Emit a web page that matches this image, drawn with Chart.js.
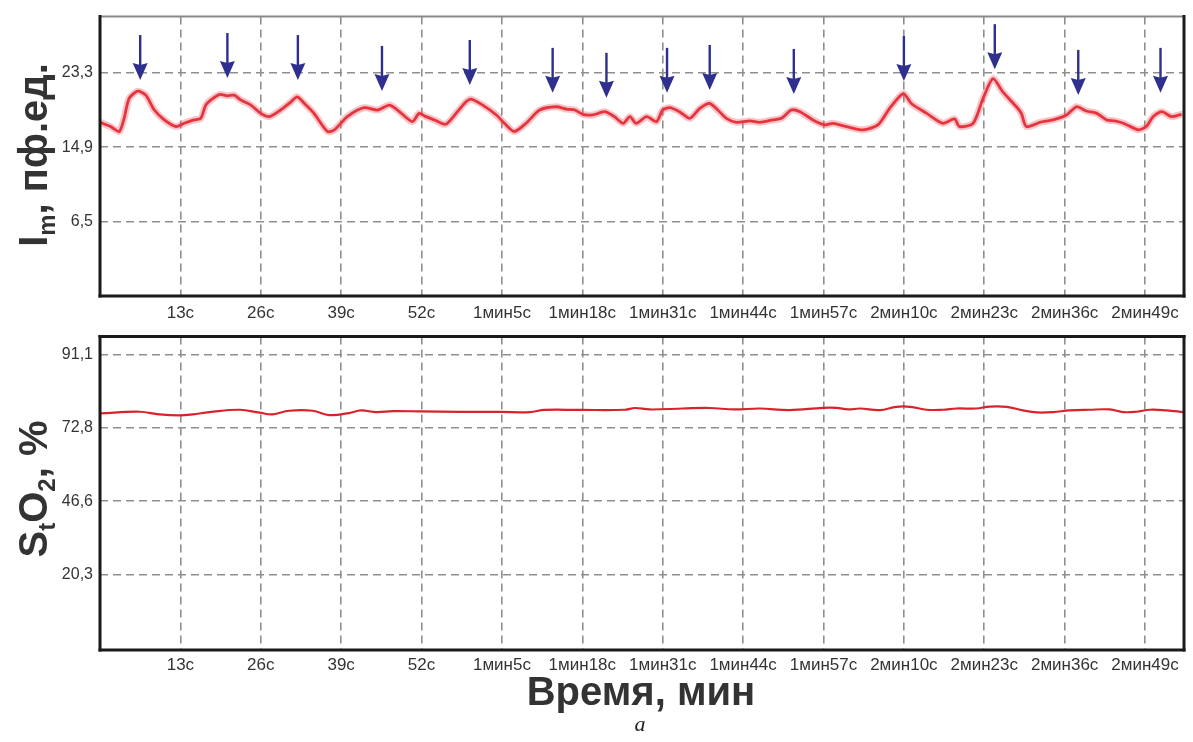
<!DOCTYPE html>
<html>
<head>
<meta charset="utf-8">
<script src="https://cdn.jsdelivr.net/npm/chart.js@4.4.1/dist/chart.umd.min.js"></script>
<style>
  html, body { margin: 0; padding: 0; background: #fff; }
  #wrap { position: relative; width: 1193px; height: 742px; overflow: hidden;
          font-family: "Liberation Sans", Arial, sans-serif; }
  #wrap canvas { position: absolute; left: 0; }
  #imChart { top: 0; }
  #so2Chart { top: 320px; }
  #xtitle { position: absolute; left: 0; width: 1282px; text-align: center; top: 671px;
            font-weight: bold; font-size: 40px; line-height: 40px; color: #333; }
  #fig { position: absolute; left: 0; width: 1280px; text-align: center; top: 713px;
         font-family: "Liberation Serif", "Times New Roman", serif; font-style: italic;
         font-size: 22px; line-height: 22px; color: #222; }
</style>
</head>
<body>
<div id="wrap">
  <canvas id="imChart" width="1193" height="330"></canvas>
  <canvas id="so2Chart" width="1193" height="370"></canvas>
  <div id="xtitle">Время, мин</div>
  <div id="fig">а</div>
</div>
<script>
// ---- time axis (seconds) ----
const tickSeconds = [13, 26, 39, 52, 65, 78, 91, 104, 117, 130, 143, 156, 169];
const tickLabels = ['13с', '26с', '39с', '52с', '1мин5с', '1мин18с', '1мин31с', '1мин44с',
                    '1мин57с', '2мин10с', '2мин23с', '2мин36с', '2мин49с'];
const timeMax = 175.3;

// ---- perfusion, I_m (пф.ед.) ----
const imTickValues = [6.5, 14.9, 23.3];
const imTickLabels = ['6,5', '14,9', '23,3'];
const imTimes = [0, 1.7, 3.1, 3.9, 4.7, 6.1, 7.4, 8.8, 10.4, 12.3, 13.6, 15.2, 16.3, 17.1, 17.9,
  19.3, 20.6, 21.7, 22.8, 24.4, 26.0, 27.4, 29.2, 30.9, 31.9, 33.3, 34.6, 36.8, 37.9, 40.0,
  42.7, 44.9, 46.8, 48.1, 50.5, 51.6, 52.7, 54.1, 55.9, 57.8, 59.2, 60.0, 61.9, 64.1, 65.4,
  67.0, 68.9, 71.1, 73.8, 75.4, 76.8, 78.1, 79.7, 81.6, 83.2, 84.6, 85.7, 86.7, 88.4, 90.0,
  91.0, 92.1, 93.7, 95.4, 97.0, 98.6, 99.9, 101.3, 102.9, 105.1, 106.7, 108.8, 110.2, 111.8,
  113.2, 115.3, 117.2, 118.5, 120.7, 123.4, 125.8, 127.7, 129.9, 131.2, 133.7, 136.3, 138.2,
  139.0, 141.2, 142.8, 144.4, 146.0, 148.2, 149.0, 149.8, 152.0, 154.1, 156.3, 157.9, 159.5,
  161.2, 162.8, 164.1, 165.5, 167.9, 169.2, 170.3, 171.7, 173.3, 174.9];
const imValues = [17.70, 17.22, 16.66, 18.15, 20.39, 21.22, 20.77, 19.09, 17.97, 17.22, 17.59,
  17.97, 18.15, 19.65, 20.21, 20.84, 20.69, 20.77, 20.21, 19.65, 18.71, 18.34, 19.09, 20.02,
  20.58, 19.65, 18.71, 16.66, 16.85, 18.34, 19.35, 19.09, 19.65, 19.09, 17.78, 18.71, 18.34,
  17.97, 17.48, 18.90, 20.02, 20.32, 19.65, 18.53, 17.59, 16.66, 17.59, 19.09, 19.46, 19.20,
  19.09, 18.60, 18.53, 18.90, 18.34, 17.59, 18.34, 17.59, 18.34, 17.78, 19.09, 19.35, 18.90,
  18.15, 19.27, 19.83, 19.09, 18.15, 17.70, 17.86, 17.70, 17.97, 18.15, 19.09, 18.90, 17.97,
  17.41, 17.59, 17.22, 16.85, 17.41, 19.27, 20.95, 19.83, 18.71, 17.59, 18.08, 17.22, 17.59,
  20.39, 22.63, 21.14, 19.46, 18.71, 17.22, 17.70, 17.97, 18.53, 19.46, 18.98, 18.71, 17.97,
  17.86, 17.59, 16.85, 17.22, 18.34, 18.90, 18.34, 18.60];

// marked perfusion peaks: time (s) and value at the arrow tip
const arrowTimes = [6.5, 20.6, 32.0, 45.6, 59.8, 73.2, 81.9, 91.7, 98.6, 112.2, 130.0, 144.7, 158.2, 171.5];
const arrowTipValues = [22.48, 22.71, 22.48, 21.25, 21.92, 21.03, 20.47, 21.03, 21.36, 20.91, 22.37, 23.71, 20.80, 21.03];

// ---- tissue oxygen saturation, StO2 (%) ----
const so2TickValues = [20.3, 46.55, 72.8, 99.05];
const so2TickLabels = ['20,3', '46,6', '72,8', '91,1'];
const so2Times = [0, 6.4, 9.6, 12.9, 15.0, 17.7, 22.6, 25.8, 27.9, 30.6, 34.4, 37.1, 40.3, 42.2,
  44.7, 47.4, 51.7, 58.1, 64.6, 69.5, 71.9, 77.6, 84.9, 86.5, 88.9, 94.3, 98.6, 102.6, 106.7,
  111.5, 116.9, 119.1, 121.0, 122.9, 126.1, 128.8, 131.0, 133.7, 136.3, 138.5, 141.7, 143.9,
  146.6, 149.3, 151.5, 154.1, 156.8, 160.0, 163.3, 165.5, 167.6, 169.8, 172.5, 175.2];
const so2Values = [77.96, 78.55, 77.61, 77.26, 77.61, 78.41, 79.26, 78.20, 77.61, 78.90, 78.90,
  77.36, 78.06, 79.01, 78.41, 78.77, 78.66, 78.48, 78.48, 78.41, 79.19, 79.19, 79.26, 79.89,
  79.36, 79.71, 79.89, 79.36, 79.71, 79.12, 79.96, 79.96, 79.36, 79.71, 79.12, 80.31, 80.31,
  79.26, 79.26, 79.71, 79.71, 80.41, 80.31, 79.01, 78.31, 78.41, 79.01, 79.26, 79.36, 78.41,
  78.55, 79.26, 79.01, 78.41];

const pairs = (xs, ys) => xs.map((x, i) => ({ x, y: ys[i] }));

const GRID = '#8f8f8f';
const LABEL = '#333333';

function timeScale(labelPad) {
  return {
    type: 'linear', min: 0, max: timeMax,
    afterBuildTicks: s => { s.ticks = tickSeconds.map(v => ({ value: v })); },
    afterFit: s => { s.height = labelPad.h; },
    ticks: {
      autoSkip: false, maxRotation: 0, padding: labelPad.p, color: LABEL,
      font: { family: 'Liberation Sans', size: 17 },
      callback: (v, i) => tickLabels[i]
    },
    grid: { color: GRID, lineWidth: 1.6, drawTicks: false },
    border: { display: false, dash: [8, 5] }
  };
}

function valueScale(min, max, values, labels) {
  return {
    type: 'linear', min, max,
    afterBuildTicks: s => { s.ticks = values.map(v => ({ value: v })); },
    afterFit: s => { s.width = 100; },
    ticks: {
      padding: 7, color: LABEL,
      font: { family: 'Liberation Sans', size: 16 },
      callback: (v, i) => labels[i]
    },
    grid: { color: GRID, lineWidth: 1.6, drawTicks: false },
    border: { display: false, dash: [8, 5] }
  };
}

// frame around the plot area, side by side
const framePlugin = {
  id: 'frame',
  afterDraw(chart, args, opts) {
    const { ctx, chartArea: a } = chart;
    ctx.save();
    ctx.lineCap = 'square';
    const side = (x1, y1, x2, y2, c, w) => {
      ctx.strokeStyle = c; ctx.lineWidth = w;
      ctx.beginPath(); ctx.moveTo(x1, y1); ctx.lineTo(x2, y2); ctx.stroke();
    };
    side(a.left, a.top, a.right, a.top, opts.top, opts.topW);
    side(a.left, a.top, a.left, a.bottom, '#1a1a1a', 3);
    side(a.right, a.top, a.right, a.bottom, '#1a1a1a', 3);
    side(a.left, a.bottom, a.right, a.bottom, '#1a1a1a', 3);
    ctx.restore();
  }
};

// rotated axis title with subscripts
const rotTitlePlugin = {
  id: 'rotTitle',
  afterDraw(chart, args, opts) {
    const ctx = chart.ctx;
    const size = opts.size;
    const big = `bold ${size}px "Liberation Sans", Arial, sans-serif`;
    const small = `bold ${Math.round(size * 0.6)}px "Liberation Sans", Arial, sans-serif`;
    ctx.save();
    let total = 0;
    const widths = opts.parts.map(p => {
      ctx.font = p.sub ? small : big;
      const w = ctx.measureText(p.t).width;
      total += w;
      return w;
    });
    ctx.translate(opts.x, opts.cy);
    ctx.rotate(-Math.PI / 2);
    ctx.fillStyle = '#333';
    ctx.textBaseline = 'alphabetic';
    ctx.textAlign = 'left';
    let x = -total / 2;
    opts.parts.forEach((p, i) => {
      ctx.font = p.sub ? small : big;
      ctx.fillText(p.t, x, p.sub ? size * 0.2 : 0);
      x += widths[i];
    });
    ctx.restore();
  }
};

// downward arrows above the marked peaks
const arrowsPlugin = {
  id: 'peakArrows',
  afterDatasetsDraw(chart, args, opts) {
    if (!opts.times) return;
    const { ctx, scales: { x: xs, y: ys } } = chart;
    ctx.save();
    ctx.fillStyle = '#2e2f8e';
    ctx.strokeStyle = '#2e2f8e';
    opts.times.forEach((t, i) => {
      const px = xs.getPixelForValue(t);
      const tip = ys.getPixelForValue(opts.values[i]);
      ctx.lineWidth = 2.4;
      ctx.beginPath(); ctx.moveTo(px, tip - 45); ctx.lineTo(px, tip - 14); ctx.stroke();
      ctx.beginPath();
      ctx.moveTo(px, tip);
      ctx.lineTo(px - 7.5, tip - 17);
      ctx.lineTo(px, tip - 15);
      ctx.lineTo(px + 7.5, tip - 17);
      ctx.closePath();
      ctx.fill();
    });
    ctx.restore();
  }
};

const common = {
  responsive: false,
  animation: false,
  devicePixelRatio: 1,
  events: [],
  elements: { point: { radius: 0 } }
};

new Chart(document.getElementById('imChart'), {
  type: 'line',
  data: {
    datasets: [
      { data: pairs(imTimes, imValues), borderColor: 'rgba(236, 90, 100, 0.35)', borderWidth: 7,
        tension: 0.25, borderJoinStyle: 'round', borderCapStyle: 'round' },
      { data: pairs(imTimes, imValues), borderColor: '#e3212b', borderWidth: 2.8,
        tension: 0.25, borderJoinStyle: 'round' }
    ]
  },
  options: Object.assign({}, common, {
    layout: { padding: { top: 14, right: 9, left: 0, bottom: 0 } },
    scales: {
      x: timeScale({ h: 34, p: 7 }),
      y: valueScale(-1.93, 29.65, imTickValues, imTickLabels)
    },
    plugins: {
      legend: { display: false }, tooltip: { enabled: false },
      frame: { top: '#8a8a8a', topW: 2 },
      rotTitle: { x: 47, cy: 155, size: 40,
        parts: [{ t: 'I' }, { t: 'm', sub: true }, { t: ', пф.ед.' }] },
      peakArrows: { times: arrowTimes, values: arrowTipValues }
    }
  }),
  plugins: [framePlugin, rotTitlePlugin, arrowsPlugin]
});

new Chart(document.getElementById('so2Chart'), {
  type: 'line',
  data: {
    datasets: [
      { data: pairs(so2Times, so2Values), borderColor: '#d9232c', borderWidth: 2.2, tension: 0.4 }
    ]
  },
  options: Object.assign({}, common, {
    layout: { padding: { top: 10.7, right: 9, left: 0, bottom: 0 } },
    scales: {
      x: timeScale({ h: 40, p: 5 }),
      y: valueScale(-6.6, 105.4, so2TickValues, so2TickLabels)
    },
    plugins: {
      legend: { display: false }, tooltip: { enabled: false },
      frame: { top: '#1a1a1a', topW: 3 },
      rotTitle: { x: 47, cy: 169, size: 40,
        parts: [{ t: 'S' }, { t: 't', sub: true }, { t: 'O' }, { t: '2', sub: true }, { t: ', %' }] },
      peakArrows: {}
    }
  }),
  plugins: [framePlugin, rotTitlePlugin, arrowsPlugin]
});
</script>
</body>
</html>
